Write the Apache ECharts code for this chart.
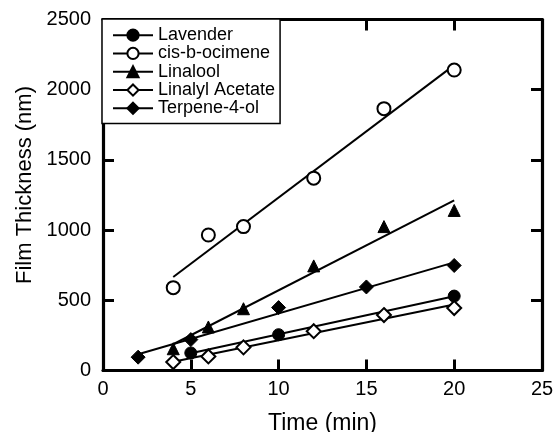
<!DOCTYPE html>
<html>
<head>
<meta charset="utf-8">
<script src="https://cdn.jsdelivr.net/npm/echarts@6/dist/echarts.min.js"></script>
<style>html,body{margin:0;padding:0;background:#fff}#c{width:554px;height:432px}</style>
</head>
<body>
<div id="c"></div>
<script>
// ---- data ----
const seriesNames = ['Lavender', 'cis-b-ocimene', 'Linalool', 'Linalyl Acetate', 'Terpene-4-ol'];

const lavenderTime = [5, 10, 20];
const lavenderThickness = [125, 255, 530];

const ocimeneTime = [4, 6, 8, 12, 16, 20];
const ocimeneThickness = [590, 965, 1025, 1370, 1865, 2140];

const linaloolTime = [4, 6, 8, 12, 16, 20];
const linaloolThickness = [155, 310, 440, 745, 1025, 1140];

const acetateTime = [4, 6, 8, 12, 16, 20];
const acetateThickness = [60, 100, 165, 280, 395, 445];

const terpeneTime = [2, 5, 10, 15, 20];
const terpeneThickness = [95, 220, 448, 595, 748];

// fitted line endpoints
const lavenderFitTime = [5, 20];
const lavenderFitThickness = [123, 529];
const ocimeneFitTime = [4, 20];
const ocimeneFitThickness = [666, 2175];
const linaloolFitTime = [4, 20];
const linaloolFitThickness = [187, 1212];
const acetateFitTime = [4, 20];
const acetateFitThickness = [62, 470];
const terpeneFitTime = [2, 20];
const terpeneFitThickness = [116, 770];

const xTicks = [0, 5, 10, 15, 20, 25];
const yTicks = [0, 500, 1000, 1500, 2000, 2500];

// ---- chart ----
const FONT = 'Liberation Sans, Arial, Helvetica, sans-serif';
const pairs = (xs, ys) => xs.map((x, i) => [x, ys[i]]);

const markers = [
  { name: seriesNames[0], t: lavenderTime, v: lavenderThickness, ft: lavenderFitTime, fv: lavenderFitThickness, symbol: 'circle', size: 12 },
  { name: seriesNames[1], t: ocimeneTime, v: ocimeneThickness, ft: ocimeneFitTime, fv: ocimeneFitThickness, symbol: 'emptyCircle', size: 13 },
  { name: seriesNames[2], t: linaloolTime, v: linaloolThickness, ft: linaloolFitTime, fv: linaloolFitThickness, symbol: 'triangle', size: 12 },
  { name: seriesNames[3], t: acetateTime, v: acetateThickness, ft: acetateFitTime, fv: acetateFitThickness, symbol: 'emptyDiamond', size: 14 },
  { name: seriesNames[4], t: terpeneTime, v: terpeneThickness, ft: terpeneFitTime, fv: terpeneFitThickness, symbol: 'diamond', size: 14 }
];

const series = [];
markers.forEach(m => {
  series.push({
    name: m.name + ' fit',
    type: 'line',
    data: pairs(m.ft, m.fv),
    showSymbol: false,
    symbol: 'none',
    silent: true,
    lineStyle: { color: '#000', width: 2 },
    z: 2
  });
});
markers.forEach(m => {
  series.push({
    name: m.name,
    type: 'line',
    data: pairs(m.t, m.v),
    symbol: m.symbol,
    symbolSize: m.size,
    showAllSymbol: true,
    lineStyle: { opacity: 0, width: 0 },
    itemStyle: { color: '#000', borderColor: '#000', borderWidth: 1 },
    z: 3
  });
});

const plain = v => String(v);
const TICK_LEN = 11;

const option = {
  animation: false,
  backgroundColor: '#fff',
  grid: { left: 103, right: 12, top: 19.5, bottom: 61.5, outerBoundsMode: 'none' },
  legend: {
    data: seriesNames,
    orient: 'vertical',
    left: 102,
    top: 19,
    itemWidth: 40,
    itemHeight: 14,
    itemGap: 0,
    padding: [7, 5, 6, 10],
    backgroundColor: '#fff',
    borderColor: '#000',
    borderWidth: 1.5,
    borderRadius: 0,
    selectedMode: false,
    textStyle: { fontFamily: FONT, fontSize: 18, color: '#000', lineHeight: 18.3 },
    lineStyle: { color: '#000', width: 2, opacity: 1 },
    z: 10
  },
  xAxis: [
    { type: 'value', min: xTicks[0], max: xTicks[xTicks.length - 1], interval: 5, position: 'bottom',
      name: 'Time (min)', nameLocation: 'middle', nameGap: 42,
      nameTextStyle: { fontFamily: FONT, fontSize: 23, color: '#000' },
      axisLine: { show: true, onZero: false, lineStyle: { color: '#000', width: 3.2 } },
      axisTick: { show: true, inside: true, length: TICK_LEN, lineStyle: { color: '#000', width: 3 } },
      axisLabel: { fontFamily: FONT, fontSize: 20, color: '#000', margin: 9, formatter: plain },
      splitLine: { show: false } },
    { type: 'value', min: xTicks[0], max: xTicks[xTicks.length - 1], interval: 5, position: 'top',
      axisLine: { show: true, onZero: false, lineStyle: { color: '#000', width: 3.2 } },
      axisTick: { show: true, inside: true, length: TICK_LEN, lineStyle: { color: '#000', width: 3 } },
      axisLabel: { show: false }, splitLine: { show: false } }
  ],
  yAxis: [
    { type: 'value', min: yTicks[0], max: yTicks[yTicks.length - 1], interval: 500, position: 'left',
      name: 'Film Thickness (nm)', nameLocation: 'middle', nameGap: 67,
      nameTextStyle: { fontFamily: FONT, fontSize: 22, color: '#000', padding: [0, 0, 0, 20] },
      axisLine: { show: true, onZero: false, lineStyle: { color: '#000', width: 3.2 } },
      axisTick: { show: true, inside: true, length: TICK_LEN, lineStyle: { color: '#000', width: 3 } },
      axisLabel: { fontFamily: FONT, fontSize: 20, color: '#000', margin: 12, formatter: plain },
      splitLine: { show: false } },
    { type: 'value', min: yTicks[0], max: yTicks[yTicks.length - 1], interval: 500, position: 'right',
      axisLine: { show: true, onZero: false, lineStyle: { color: '#000', width: 3.2 } },
      axisTick: { show: true, inside: true, length: TICK_LEN, lineStyle: { color: '#000', width: 3 } },
      axisLabel: { show: false }, splitLine: { show: false } }
  ],
  series
};

echarts.init(document.getElementById('c'), null, { renderer: 'canvas' }).setOption(option);
</script>
</body>
</html>
